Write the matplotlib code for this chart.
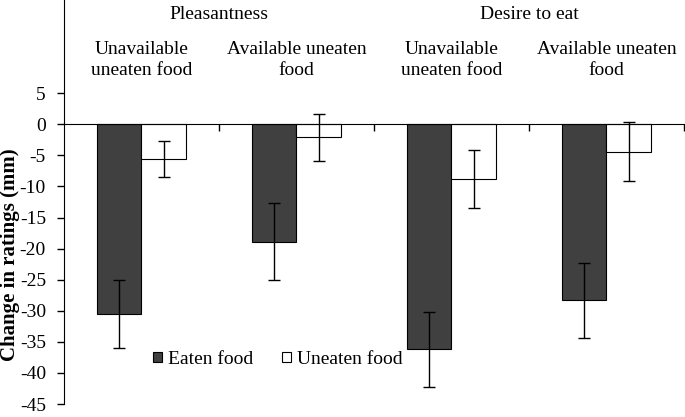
import numpy as np
import matplotlib.pyplot as plt

plt.rcParams['font.family'] = ['Liberation Serif', 'DejaVu Serif']

# data
groups = ['Unavailable\nuneaten food', 'Available uneaten\nfood',
          'Unavailable\nuneaten food', 'Available uneaten\nfood']
measures = ['Pleasantness', 'Desire to eat']
eaten = [-30.5, -18.9, -36.2, -28.3]
eaten_err = [5.4, 6.2, 6.0, 6.0]
uneaten = [-5.6, -2.1, -8.8, -4.4]
uneaten_err = [2.9, 3.8, 4.7, 4.7]

fig = plt.figure(figsize=(6.85, 4.17), dpi=100)
ax = fig.add_axes([0.0934, 0.031, 0.905, 0.969])

x = np.arange(len(groups)) + 0.5
w = 0.287
ax.bar(x - w/2, eaten, w, color='#404040', edgecolor='black', linewidth=0.8,
       yerr=eaten_err, error_kw=dict(ecolor='black', elinewidth=1, capsize=4, capthick=1),
       label='Eaten food')
ax.bar(x + w/2, uneaten, w, color='white', edgecolor='black', linewidth=0.8,
       yerr=uneaten_err, error_kw=dict(ecolor='black', elinewidth=1, capsize=4, capthick=1),
       label='Uneaten food')

ax.set_xlim(0, 4)
ax.set_ylim(-45, 20)
ax.set_yticks(np.arange(-45, 6, 5))
ax.set_yticklabels([str(v) for v in range(-45, 6, 5)])
ax.set_xticks([1, 2, 3, 4])
ax.set_xticklabels([])
ax.spines['top'].set_visible(False)
ax.spines['right'].set_visible(False)
ax.spines['bottom'].set_position(('data', 0))
ax.tick_params(axis='both', direction='out', length=5, width=1, labelsize=14)
ax.tick_params(axis='y', pad=8)

for xi, g in zip(x, groups):
    ax.text(xi, 10.4, g, ha='center', va='center', fontsize=14, linespacing=1.3)
for i, m in enumerate(measures):
    ax.text(1 + 2*i, 17.6, m, ha='center', va='center', fontsize=14)

ax.set_ylabel('Change in ratings (mm)', fontsize=15, fontweight='bold', va='center')
ax.yaxis.set_label_coords(-0.087, 0.369)

ax.legend(loc='lower left', bbox_to_anchor=(0.128, 0.066), ncol=2, frameon=False,
          fontsize=14, handlelength=0.45, handleheight=0.45, handletextpad=0.3,
          columnspacing=1.5, borderpad=0)

fig.savefig('out.png', dpi=100)
